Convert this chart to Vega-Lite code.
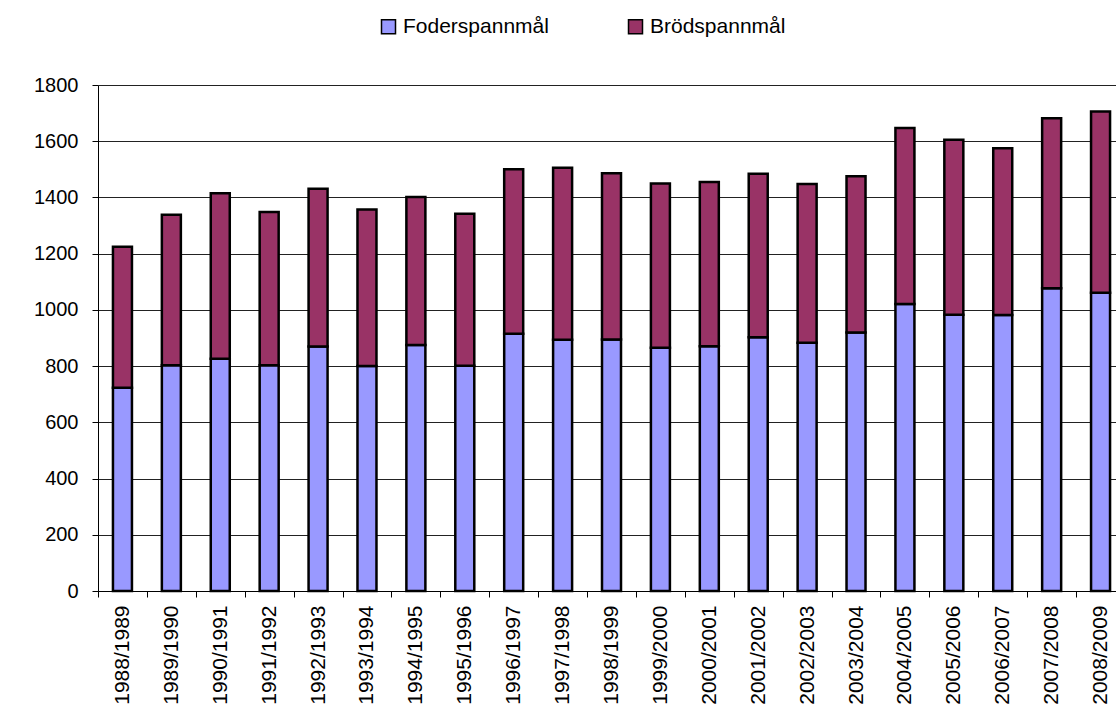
{
  "$schema": "https://vega.github.io/schema/vega-lite/v6.json",
  "width": 1018,
  "height": 506,
  "autosize": {"type": "none"},
  "padding": {"left": 98, "top": 85, "right": 0, "bottom": 124},
  "background": "white",
  "config": {
    "font": "Liberation Sans",
    "view": {"stroke": null}
  },
  "data": {
    "values": [
      {"year": "1988/1989", "type": "Foderspannmål", "value": 723},
      {"year": "1988/1989", "type": "Brödspannmål", "value": 502},
      {"year": "1989/1990", "type": "Foderspannmål", "value": 803},
      {"year": "1989/1990", "type": "Brödspannmål", "value": 535},
      {"year": "1990/1991", "type": "Foderspannmål", "value": 826},
      {"year": "1990/1991", "type": "Brödspannmål", "value": 589},
      {"year": "1991/1992", "type": "Foderspannmål", "value": 803},
      {"year": "1991/1992", "type": "Brödspannmål", "value": 545},
      {"year": "1992/1993", "type": "Foderspannmål", "value": 870},
      {"year": "1992/1993", "type": "Brödspannmål", "value": 561},
      {"year": "1993/1994", "type": "Foderspannmål", "value": 800},
      {"year": "1993/1994", "type": "Brödspannmål", "value": 557},
      {"year": "1994/1995", "type": "Foderspannmål", "value": 875},
      {"year": "1994/1995", "type": "Brödspannmål", "value": 527},
      {"year": "1995/1996", "type": "Foderspannmål", "value": 801},
      {"year": "1995/1996", "type": "Brödspannmål", "value": 541},
      {"year": "1996/1997", "type": "Foderspannmål", "value": 915},
      {"year": "1996/1997", "type": "Brödspannmål", "value": 585},
      {"year": "1997/1998", "type": "Foderspannmål", "value": 894},
      {"year": "1997/1998", "type": "Brödspannmål", "value": 612},
      {"year": "1998/1999", "type": "Foderspannmål", "value": 895},
      {"year": "1998/1999", "type": "Brödspannmål", "value": 591},
      {"year": "1999/2000", "type": "Foderspannmål", "value": 865},
      {"year": "1999/2000", "type": "Brödspannmål", "value": 585},
      {"year": "2000/2001", "type": "Foderspannmål", "value": 871},
      {"year": "2000/2001", "type": "Brödspannmål", "value": 584},
      {"year": "2001/2002", "type": "Foderspannmål", "value": 903},
      {"year": "2001/2002", "type": "Brödspannmål", "value": 581},
      {"year": "2002/2003", "type": "Foderspannmål", "value": 883},
      {"year": "2002/2003", "type": "Brödspannmål", "value": 565},
      {"year": "2003/2004", "type": "Foderspannmål", "value": 920},
      {"year": "2003/2004", "type": "Brödspannmål", "value": 555},
      {"year": "2004/2005", "type": "Foderspannmål", "value": 1021},
      {"year": "2004/2005", "type": "Brödspannmål", "value": 626},
      {"year": "2005/2006", "type": "Foderspannmål", "value": 983},
      {"year": "2005/2006", "type": "Brödspannmål", "value": 622},
      {"year": "2006/2007", "type": "Foderspannmål", "value": 982},
      {"year": "2006/2007", "type": "Brödspannmål", "value": 593},
      {"year": "2007/2008", "type": "Foderspannmål", "value": 1077},
      {"year": "2007/2008", "type": "Brödspannmål", "value": 605},
      {"year": "2008/2009", "type": "Foderspannmål", "value": 1061},
      {"year": "2008/2009", "type": "Brödspannmål", "value": 645}
    ]
  },
  "mark": {"type": "bar", "width": 19, "stroke": "black", "strokeWidth": 2.5},
  "encoding": {
    "x": {
      "field": "year",
      "type": "nominal",
      "sort": null,
      "title": null,
      "scale": {"range": [0, 1027], "paddingInner": 0, "paddingOuter": 0},
      "axis": {
        "labelAngle": 270,
        "labelFontSize": 21,
        "labelColor": "black",
        "labelPadding": 8,
        "tickBand": "extent",
        "tickSize": 6,
        "tickColor": "black",
        "domainColor": "black",
        "domainWidth": 1
      }
    },
    "y": {
      "field": "value",
      "type": "quantitative",
      "stack": "zero",
      "title": null,
      "scale": {"domain": [0, 1800], "nice": false},
      "axis": {
        "values": [0, 200, 400, 600, 800, 1000, 1200, 1400, 1600, 1800],
        "format": "d",
        "labelFontSize": 20,
        "labelColor": "black",
        "labelPadding": 14,
        "tickSize": 6,
        "tickColor": "black",
        "domainColor": "black",
        "gridColor": "#222222",
        "gridOpacity": 1,
        "gridWidth": 1
      }
    },
    "color": {
      "field": "type",
      "type": "nominal",
      "scale": {"domain": ["Foderspannmål", "Brödspannmål"], "range": ["#9999FF", "#993366"]},
      "legend": {
        "title": null,
        "orient": "none",
        "direction": "horizontal",
        "legendX": 280,
        "legendY": -69,
        "symbolType": "square",
        "symbolSize": 196,
        "symbolStrokeColor": "black",
        "symbolStrokeWidth": 1.5,
        "labelFontSize": 21,
        "labelColor": "black",
        "labelOffset": 4,
        "columnPadding": 76
      }
    },
    "order": {"field": "type", "sort": "descending"}
  }
}
